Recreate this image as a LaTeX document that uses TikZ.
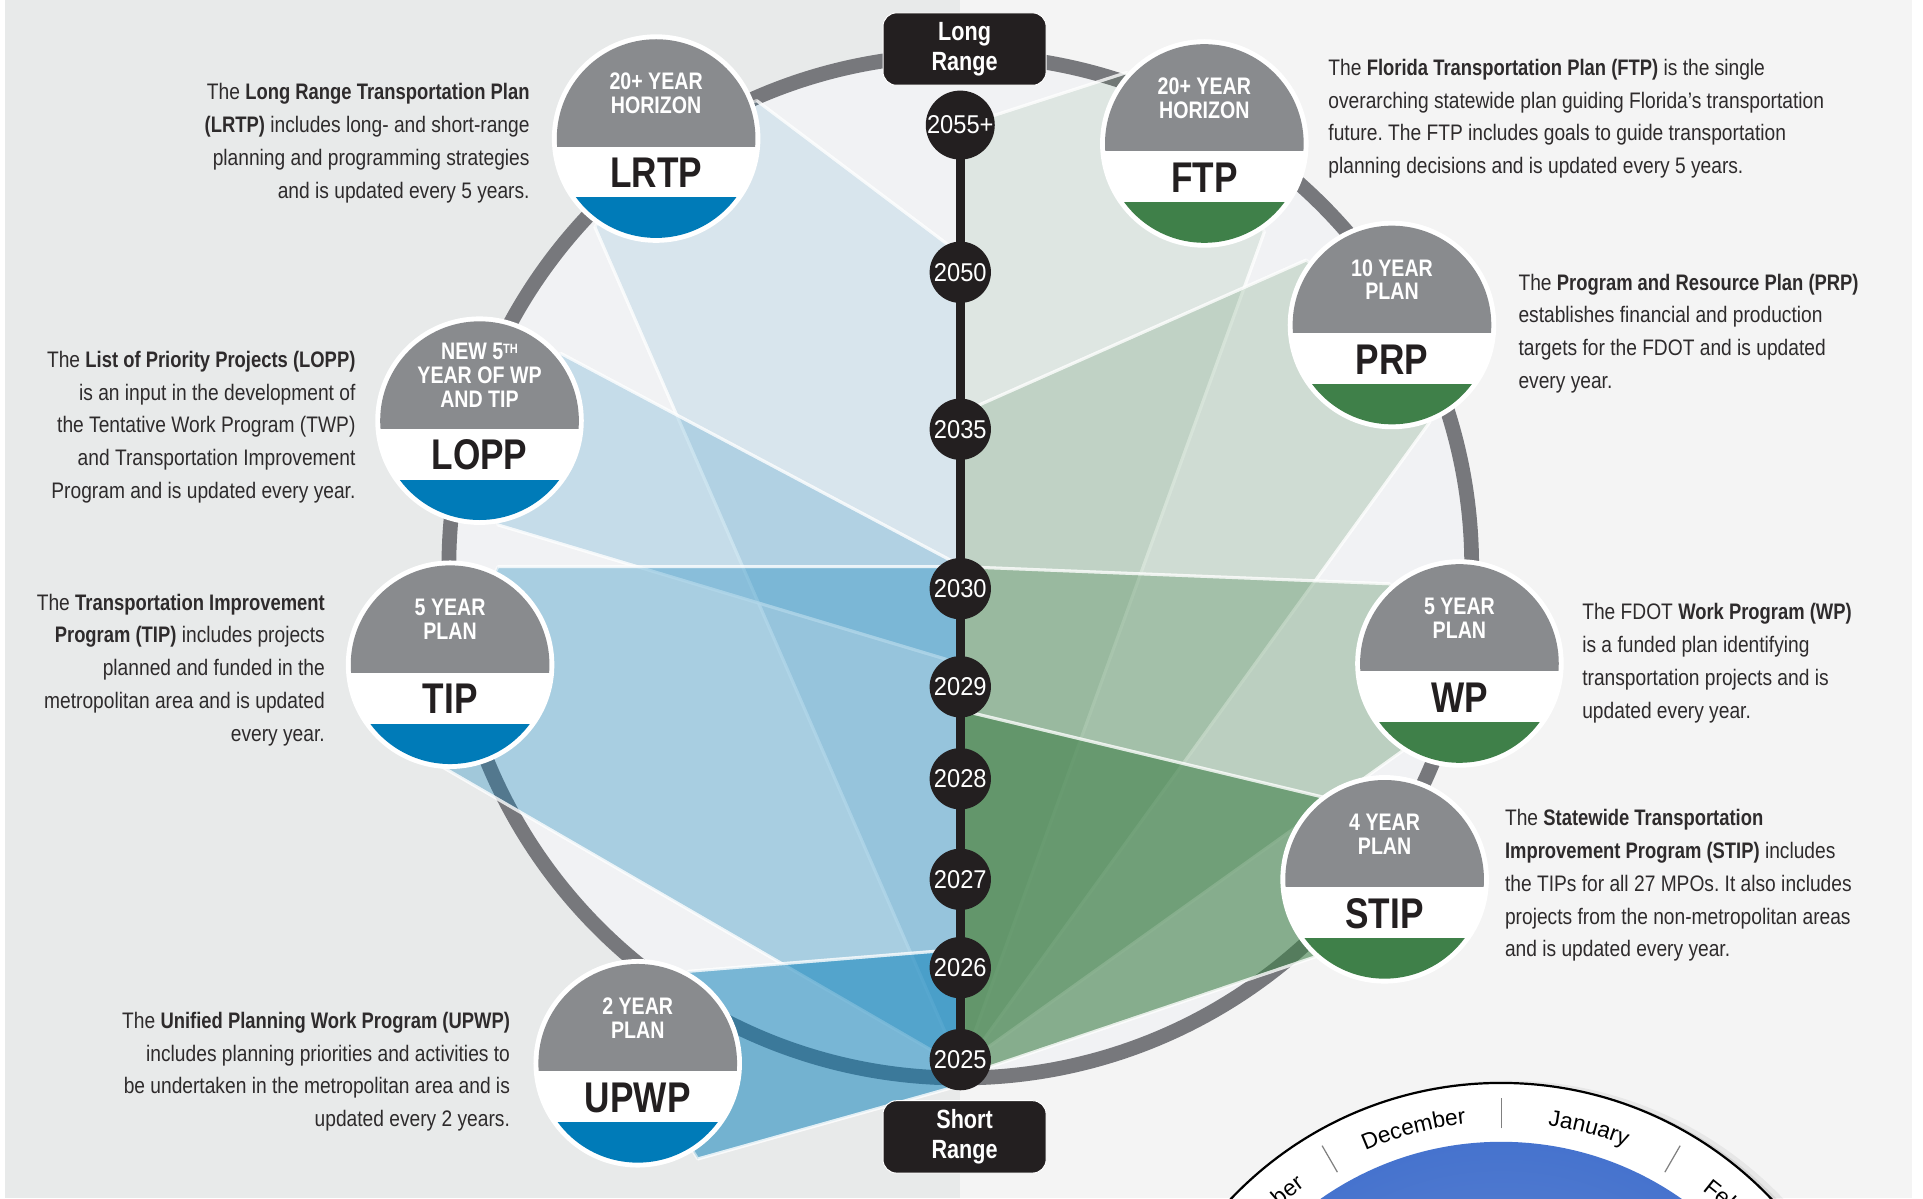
\documentclass[tikz,border=0pt]{standalone}
\usepackage{fontspec}
\setmainfont{Liberation Sans}[UprightFeatures={FakeStretch=0.855}, BoldFeatures={FakeStretch=0.82}]
\newfontfamily\yearfont{Liberation Sans}[FakeStretch=0.92]
\newfontfamily\monthfont{Liberation Sans}
\usetikzlibrary{decorations.text}
\frenchspacing
\definecolor{bgL}{HTML}{E8EAEA}
\definecolor{bgR}{HTML}{F4F4F4}
\definecolor{inner}{HTML}{F1F2F4}
\definecolor{ringgray}{HTML}{77787C}
\definecolor{plangray}{HTML}{898B8E}
\definecolor{planblue}{HTML}{007BB8}
\definecolor{plangreen}{HTML}{3F8049}
\definecolor{ink}{HTML}{231F20}
\definecolor{bodyink}{HTML}{2E2B2C}
\definecolor{wheelLight}{HTML}{6C8ED3}
\definecolor{wheelDark}{HTML}{4673CE}
\newcommand{\plancirc}[6]{%
  \node[circle, fill=white, minimum size=170pt, inner sep=0pt] (#1) at (#2,#3) {};
  \begin{scope}
    \clip (#2,#3) circle[radius=81];
    \fill[plangray] (#2-90,#3-90) rectangle (#2+90,#3+6.5);
    \fill[#4] (#2-90,#3+48) rectangle (#2+90,#3+90);
  \end{scope}
  \node[toptext] (#1top) at (#2,#3-37) {#5};
  \node[labeltext] (#1lab) at (#2,#3+28) {#6};
}
\begin{document}
\begin{tikzpicture}[x=1pt, y=-1pt,
  toptext/.style={font=\bfseries\fontsize{19.5}{19.5}\selectfont, text=white, align=center, inner sep=0pt},
  labeltext/.style={font=\bfseries\fontsize{35}{35}\selectfont, text=ink, inner sep=0pt},
  bodyL/.style={font=\fontsize{18.3}{26.7}\selectfont, text=bodyink, align=right, anchor=north east, inner sep=0pt},
  bodyR/.style={font=\fontsize{18.3}{26.7}\selectfont, text=bodyink, align=left, anchor=north west, inner sep=0pt},
  yearnode/.style={circle, fill=ink, minimum size=50pt, inner sep=0pt, text=white, font=\yearfont\fontsize{21}{21}\selectfont},
  rangebox/.style={rounded corners=11pt, fill=ink, draw=white, line width=0.8pt, minimum width=133pt, minimum height=59pt, text=white, font=\bfseries\fontsize{21.5}{24}\selectfont, align=center, inner sep=0pt},
  fanblue/.style={fill=planblue, draw=white, draw opacity=0.55, line width=2.5pt, line join=round},
  fangreen/.style={fill=plangreen, draw=white, draw opacity=0.55, line width=2.5pt, line join=round},
  monthsep/.style={draw=gray, line width=1pt}
]
\useasboundingbox (0,0) rectangle (1568,977);
\clip (0,0) rectangle (1568,977);
% background
\fill[white] (0,0) rectangle (1568,977);
\fill[bgL] (4,0) rectangle (783,977);
\fill[bgR] (783,0) rectangle (1559,977);
% ring
\fill[inner] (783,462) circle[radius=417];
\draw[ringgray, line width=12pt] (783,462) circle[radius=417];
% calendar wheel
\begin{scope}[shift={(1224,1187)}]
  \fill[black, opacity=0.05] (5,5) circle[radius=311];
  \fill[black, opacity=0.07] (3,3) circle[radius=307];
  \fill[white, draw=black, line width=1.8pt] (0,0) circle[radius=304];
  \shade[inner color=wheelLight, outer color=wheelDark] (0,0) circle[radius=256];
  \foreach \a in {-150,-120,-90,-60,-30} \draw[monthsep] (\a:267) -- (\a:292);
  \path[decorate, decoration={text along path, text align=center, text={|\monthfont\fontsize{18.5}{18.5}\selectfont|November}}] (-150:272) arc[start angle=-150, end angle=-120, radius=272];
  \path[decorate, decoration={text along path, text align=center, text={|\monthfont\fontsize{18.5}{18.5}\selectfont|December}}] (-120:272) arc[start angle=-120, end angle=-90, radius=272];
  \path[decorate, decoration={text along path, text align=center, text={|\monthfont\fontsize{18.5}{18.5}\selectfont|January}}] (-90:272) arc[start angle=-90, end angle=-60, radius=272];
  \path[decorate, decoration={text along path, text align=center, text={|\monthfont\fontsize{18.5}{18.5}\selectfont|February}}] (-60:272) arc[start angle=-60, end angle=-30, radius=272];
\end{scope}
% fans (blue)
\fill[fanblue, fill opacity=0.10] (617,82) -- (783,207) -- (783,870) -- (485,185) -- (535,113) -- cycle;
\draw[fanblue, fill opacity=0] (617,82) -- (783,207) (783,870) -- (485,185);
\fill[fanblue, fill opacity=0.18] (457,288) -- (783,461) -- (783,541) -- (406,428) -- (391,343) -- cycle;
\draw[fanblue, fill opacity=0] (457,288) -- (783,461) (783,541) -- (406,428);
\fill[fanblue, fill opacity=0.30] (406,462) -- (783,462) -- (783,870) -- (360,625) -- (367,542) -- cycle;
\draw[fanblue, fill opacity=0] (406,462) -- (783,462) (783,870) -- (360,625);
\fill[fanblue, fill opacity=0.50] (561,792) -- (783,774) -- (783,885) -- (569,945) -- (520,867) -- cycle;
\draw[fanblue, fill opacity=0] (561,792) -- (783,774) (783,885) -- (569,945);
% fans (green)
\fill[fangreen, fill opacity=0.10] (919,59) -- (783,103) -- (786,866) -- (1031,189) -- (982,117) -- cycle;
\draw[fangreen, fill opacity=0] (919,59) -- (783,103) (786,866) -- (1031,189);
\fill[fangreen, fill opacity=0.19] (1065,212) -- (783,337) -- (786,870) -- (1166,344) -- (1135,265) -- cycle;
\draw[fangreen, fill opacity=0] (1065,212) -- (783,337) (786,870) -- (1166,344);
\fill[fangreen, fill opacity=0.30] (1133,476) -- (783,462) -- (786,868) -- (1144,612) -- (1190,541) -- cycle;
\draw[fangreen, fill opacity=0] (1133,476) -- (783,462) (786,868) -- (1144,612);
\fill[fangreen, fill opacity=0.60] (1079,650) -- (783,579) -- (783,878) -- (1076,779) -- (1129,717) -- cycle;
\draw[fangreen, fill opacity=0] (1079,650) -- (783,579) (783,878) -- (1076,779);
% timeline
\coordinate (tlTop) at (783,102);
\coordinate (tlBot) at (783,864);
\draw[ink, line width=7pt] (tlTop) -- (tlBot);
\foreach \nm/\yr/\yy in {ya/2055+/102, yb/2050/222, yc/2035/350, yd/2030/480, ye/2029/560, yf/2028/635, yg/2027/717, yh/2026/789, yi/2025/864}
  \node[yearnode] (\nm) at (783,\yy) {\yr};
% range boxes
\node[rangebox] (longrange) at (786.5,40) {Long\\Range};
\node[rangebox] (shortrange) at (786.5,927) {Short\\Range};
% plan circles
\plancirc{LRTP}{535}{113}{planblue}{20+ YEAR\\HORIZON}{LRTP}
\plancirc{LOPP}{391}{343}{planblue}{NEW 5\raisebox{5pt}{\fontsize{11}{11}\selectfont TH}\\YEAR OF WP\\AND TIP}{LOPP}
\plancirc{TIP}{367}{542}{planblue}{5 YEAR\\PLAN}{TIP}
\plancirc{UPWP}{520}{867}{planblue}{2 YEAR\\PLAN}{UPWP}
\plancirc{FTP}{982}{117}{plangreen}{20+ YEAR\\HORIZON}{FTP}
\plancirc{PRP}{1135}{265}{plangreen}{10 YEAR\\PLAN}{PRP}
\plancirc{WP}{1190}{541}{plangreen}{5 YEAR\\PLAN}{WP}
\plancirc{STIP}{1129}{717}{plangreen}{4 YEAR\\PLAN}{STIP}
% descriptions
\node[bodyL] (tLRTP) at (432,68) {The \textbf{Long Range Transportation Plan}\\\textbf{(LRTP)} includes long- and short-range\\planning and programming strategies\\and is updated every 5 years.};
\node[bodyL] (tLOPP) at (290,286) {The \textbf{List of Priority Projects (LOPP)}\\is an input in the development of\\the Tentative Work Program (TWP)\\and Transportation Improvement\\Program and is updated every year.};
\node[bodyL] (tTIP) at (265,484) {The \textbf{Transportation Improvement}\\\textbf{Program (TIP)} includes projects\\planned and funded in the\\metropolitan area and is updated\\every year.};
\node[bodyL] (tUPWP) at (416,825) {The \textbf{Unified Planning Work Program (UPWP)}\\includes planning priorities and activities to\\be undertaken in the metropolitan area and is\\updated every 2 years.};
\node[bodyR] (tFTP) at (1083,48) {The \textbf{Florida Transportation Plan (FTP)} is the single\\overarching statewide plan guiding Florida’s transportation\\future. The FTP includes goals to guide transportation\\planning decisions and is updated every 5 years.};
\node[bodyR] (tPRP) at (1238,223) {The \textbf{Program and Resource Plan (PRP)}\\establishes financial and production\\targets for the FDOT and is updated\\every year.};
\node[bodyR] (tWP) at (1290,492) {The FDOT \textbf{Work Program (WP)}\\is a funded plan identifying\\transportation projects and is\\updated every year.};
\node[bodyR] (tSTIP) at (1227,660) {The \textbf{Statewide Transportation}\\\textbf{Improvement Program (STIP)} includes\\the TIPs for all 27 MPOs. It also includes\\projects from the non-metropolitan areas\\and is updated every year.};
\end{tikzpicture}
\end{document}
